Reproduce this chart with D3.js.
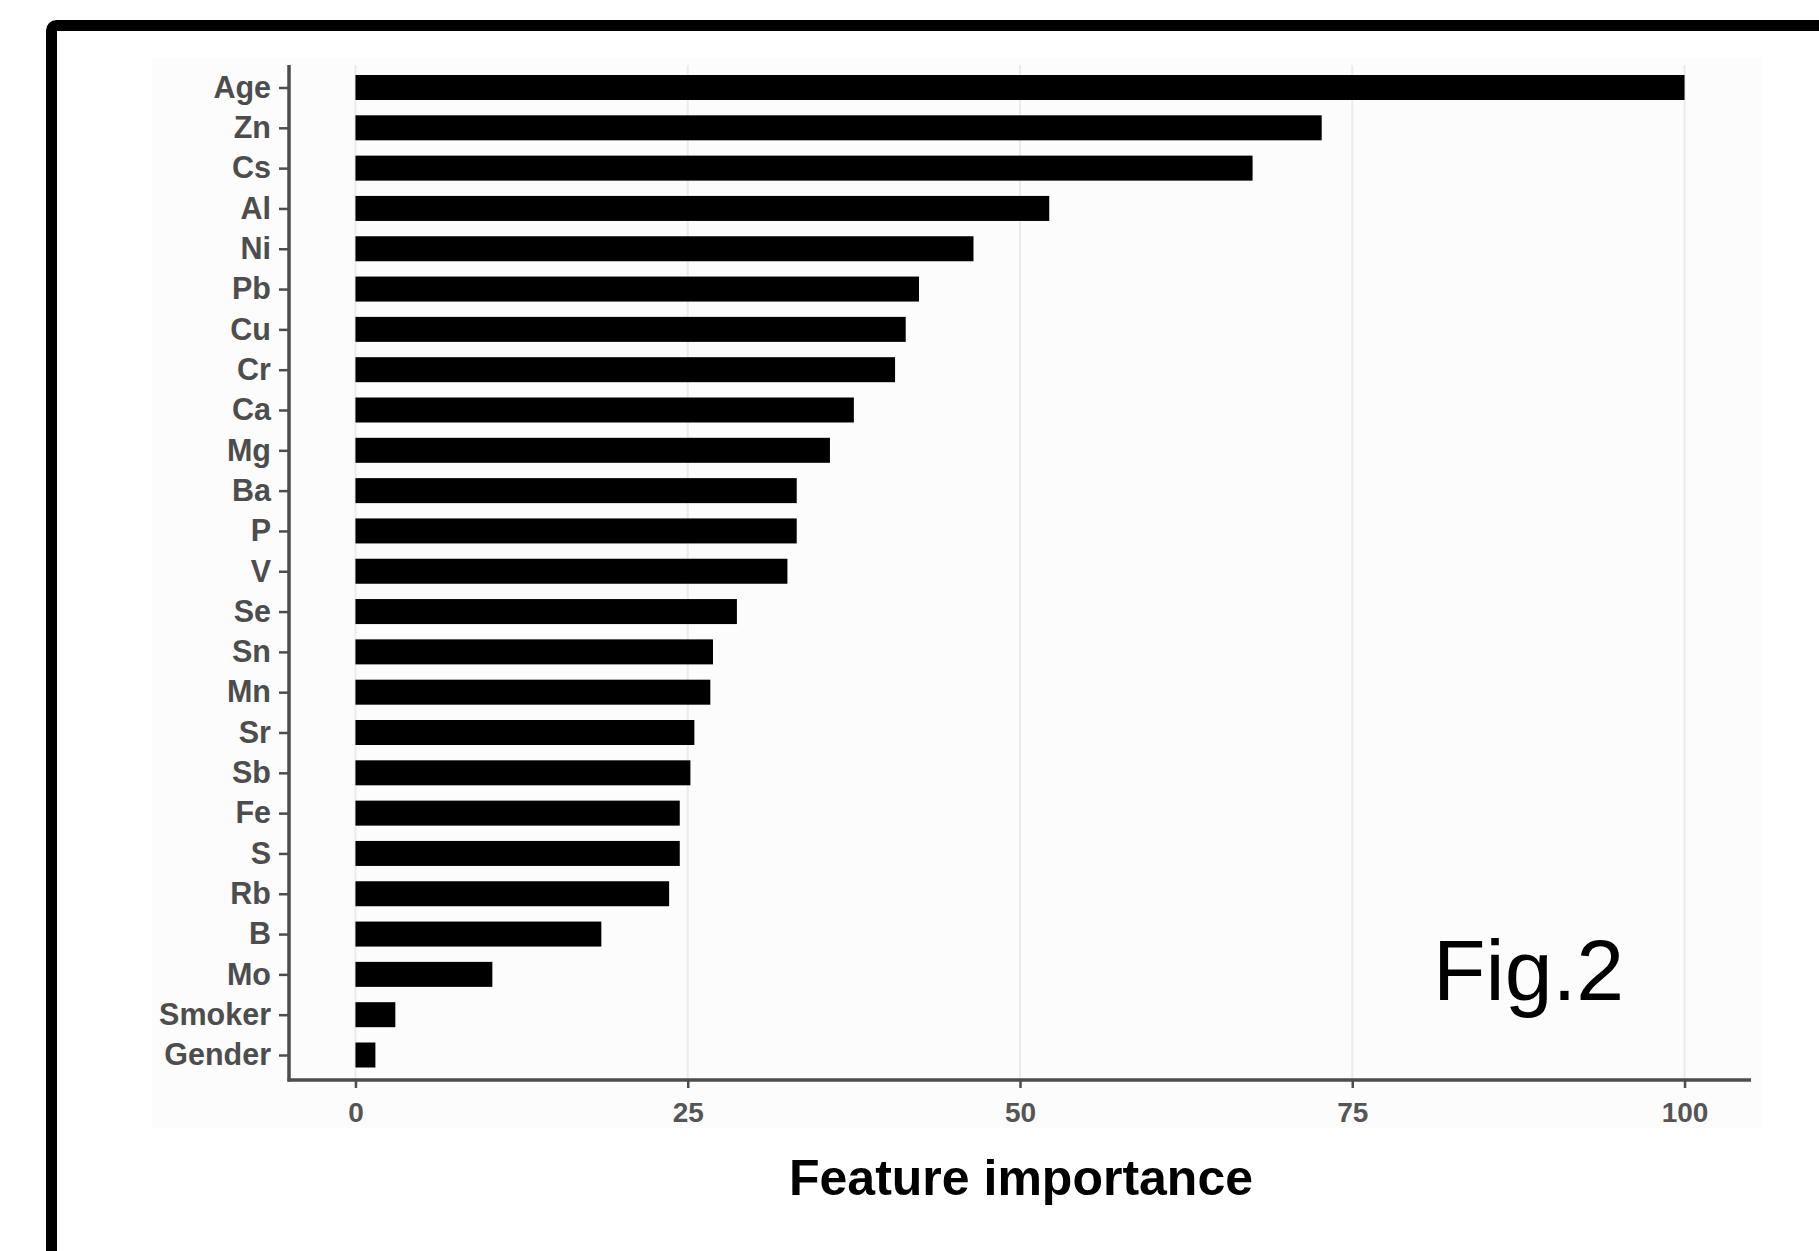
<!DOCTYPE html>
<html>
<head>
<meta charset="utf-8">
<script src="https://cdn.jsdelivr.net/npm/d3@7"></script>
<style>
  html, body { margin: 0; padding: 0; background: #ffffff; }
  svg { display: block; }
</style>
</head>
<body>
<script>
const categories = ["Age","Zn","Cs","Al","Ni","Pb","Cu","Cr","Ca","Mg","Ba","P","V","Se","Sn","Mn","Sr","Sb","Fe","S","Rb","B","Mo","Smoker","Gender"];
const values = [100, 72.7, 67.5, 52.2, 46.5, 42.4, 41.4, 40.6, 37.5, 35.7, 33.2, 33.2, 32.5, 28.7, 26.9, 26.7, 25.5, 25.2, 24.4, 24.4, 23.6, 18.5, 10.3, 3.0, 1.5];
const xTicks = [0, 25, 50, 75, 100];
const xTitle = "Feature importance";
const figLabel = "Fig.2";

const W = 1819, H = 1251;
const svg = d3.select("body").append("svg").attr("width", W).attr("height", H);

svg.append("rect").attr("width", W).attr("height", H).attr("fill", "#ffffff");

// plot background (faint)
svg.append("rect").attr("x", 152).attr("y", 58).attr("width", 1610).attr("height", 1070).attr("fill", "#fcfcfc");

// frame border
svg.append("rect").attr("x", 51.5).attr("y", 25.5).attr("width", 2000).attr("height", 1500)
  .attr("rx", 5).attr("fill", "none").attr("stroke", "#000").attr("stroke-width", 11);

const panelTop = 65, panelBottom = 1080, panelLeft = 289, panelRight = 1751;

const x = d3.scaleLinear().domain([-5, 105]).range([panelLeft, panelRight]);
const y = d3.scalePoint().domain(categories).range([87.5, 1055]);
const barH = 25;

// gridlines
svg.append("g").selectAll("line").data(xTicks).join("line")
  .attr("x1", d => x(d)).attr("x2", d => x(d))
  .attr("y1", panelTop).attr("y2", panelBottom)
  .attr("stroke", "#ebebeb").attr("stroke-width", 2);

// bars
svg.append("g").selectAll("rect").data(categories).join("rect")
  .attr("x", x(0))
  .attr("y", d => y(d) - barH / 2)
  .attr("width", (d, i) => x(values[i]) - x(0))
  .attr("height", barH)
  .attr("fill", "#000");

// y axis
const yAxis = d3.axisLeft(y).tickSize(10).tickPadding(8);
const gy = svg.append("g").attr("transform", `translate(${panelLeft},0)`).call(yAxis);
gy.select(".domain").remove();
gy.selectAll(".tick line").attr("stroke", "#4d4d4d").attr("stroke-width", 2.5);
gy.selectAll(".tick text").attr("fill", "#4d4d4d")
  .style("font-family", "'Liberation Sans', Arial, sans-serif")
  .style("font-weight", "bold").style("font-size", "30.5px");

// x axis
const xAxis = d3.axisBottom(x).tickValues(xTicks).tickSize(8).tickPadding(14);
const gx = svg.append("g").attr("transform", `translate(0,${panelBottom})`).call(xAxis);
gx.select(".domain").remove();
gx.selectAll(".tick line").attr("stroke", "#4d4d4d").attr("stroke-width", 2.5);
gx.selectAll(".tick text").attr("fill", "#555")
  .style("font-family", "'Liberation Sans Narrow', 'Liberation Sans', Arial, sans-serif")
  .style("font-weight", "bold").style("font-size", "28px");

// axis lines
svg.append("line").attr("x1", panelLeft).attr("x2", panelLeft).attr("y1", panelTop).attr("y2", panelBottom + 1.5)
  .attr("stroke", "#4d4d4d").attr("stroke-width", 3.5);
svg.append("line").attr("x1", panelLeft - 1.5).attr("x2", panelRight).attr("y1", panelBottom).attr("y2", panelBottom)
  .attr("stroke", "#4d4d4d").attr("stroke-width", 3.5);

// x title
svg.append("text").attr("x", (panelLeft + panelRight) / 2 + 1).attr("y", 1195)
  .attr("text-anchor", "middle")
  .style("font-family", "'Liberation Sans', Arial, sans-serif")
  .style("font-weight", "bold").style("font-size", "50px")
  .attr("fill", "#000").text(xTitle);

// Fig label
svg.append("text").attr("x", 1433).attr("y", 1000)
  .style("font-family", "'Liberation Sans', Arial, sans-serif")
  .style("font-size", "86px")
  .attr("fill", "#000").text(figLabel);
</script>
</body>
</html>
